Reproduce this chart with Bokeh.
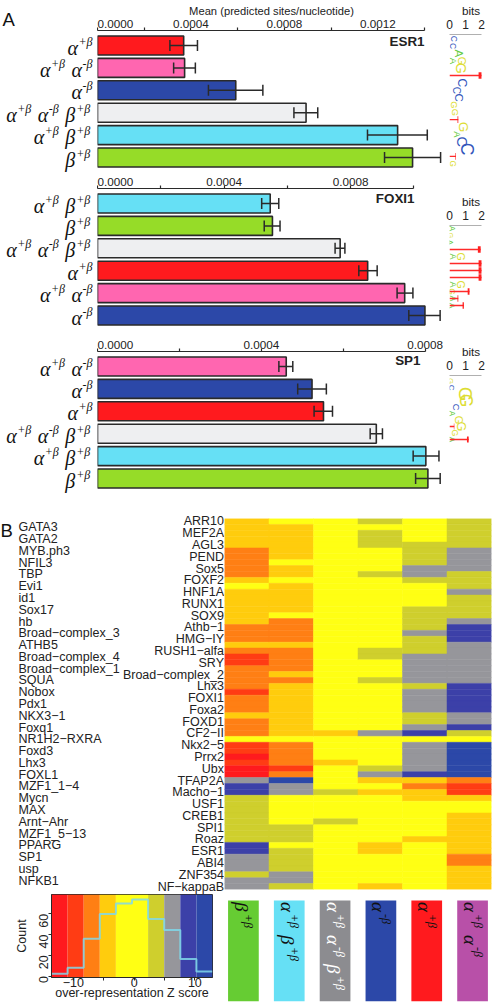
import math
import numpy as np
from bokeh.embed import file_html
from bokeh.resources import INLINE
from bokeh.plotting import figure
from bokeh.layouts import column, row
from bokeh.models import (ColumnDataSource, FactorRange, Range1d, FixedTicker, Whisker, TeeHead, Label)
from bokeh.core.properties import value

# ---- data -------------------------------------------------------------
A = "α+β"
AM = "α+β α-β"
M = "α-β"
T3 = "α+β α-β β+β"
AB = "α+β β+β"
B = "β+β"
group_colors = {A: "#ff1a1e", AM: "#ff66b0", M: "#2c48a8", T3: "#eeeff1", AB: "#66e0f5", B: "#96dc28"}

esr1_groups = [A, AM, M, T3, AB, B]
esr1_mean = [0.000369, 0.000373, 0.000592, 0.000893, 0.001285, 0.001349]
esr1_low = [0.000310, 0.000326, 0.000475, 0.000841, 0.001156, 0.001229]
esr1_high = [0.000428, 0.000419, 0.000708, 0.000943, 0.001412, 0.001469]

foxi1_groups = [AB, B, T3, A, AM, M]
foxi1_mean = [0.000546, 0.000553, 0.000767, 0.000854, 0.000971, 0.001035]
foxi1_low = [0.000519, 0.000527, 0.000751, 0.000826, 0.000947, 0.000984]
foxi1_high = [0.000573, 0.000577, 0.000782, 0.000884, 0.000997, 0.001083]

sp1_groups = [AM, M, A, T3, AB, B]
sp1_mean = [0.000461, 0.000524, 0.000552, 0.000681, 0.000802, 0.000807]
sp1_low = [0.000443, 0.000489, 0.000529, 0.000666, 0.000771, 0.000777]
sp1_high = [0.000477, 0.000559, 0.000574, 0.000696, 0.000834, 0.000837]

# sequence logos: letter position, letter, start and end in bits
esr1_pos = [2, 3, 4, 5, 5, 6, 8, 9, 10, 11, 12, 14, 15, 16, 17, 19]
esr1_let = ["C", "C", "A", "A", "G", "G", "C", "C", "C", "G", "G", "G", "A", "C", "C", "G"]
esr1_from = [.15, .1, .2, .05, .5, .1, .35, .2, .25, .1, .2, .3, .3, .15, .25, .1]
esr1_to = [.4, .35, 1.0, .5, 1.1, 1.3, 1.2, .7, 1.0, .5, .6, 1.4, .7, 1.4, 2.0, .3]
esr1_t_pos = [7, 13, 18]
esr1_t_to = [2.0, .55, .4]

foxi1_pos = [1, 2, 3, 5, 5, 9, 9, 10, 11, 12]
foxi1_let = ["A", "G", "A", "A", "G", "A", "G", "G", "A", "A"]
foxi1_from = [.05, .03, .03, .05, .4, .05, .4, .05, .05, .05]
foxi1_to = [.25, .12, .1, .4, 1.0, .4, 1.0, .3, .35, .3]
foxi1_t_pos = [4, 6, 7, 8, 10, 11, 12]
foxi1_t_to = [1.95, 2.0, 2.0, 2.0, 1.25, .55, .9]

sp1_pos = [1, 2, 3, 4, 5, 6, 7, 8, 9, 10]
sp1_let = ["G", "C", "G", "G", "C", "A", "G", "G", "G", "A"]
sp1_from = [.03, .03, .05, .15, .25, .05, .25, .25, .2, .03]
sp1_to = [.15, .2, 2.0, 1.9, .65, .25, .9, 1.2, .5, .25]
sp1_t_pos = [10, 8]
sp1_t_to = [1.2, .3]

# motif enrichment heatmap
top_names = ["ARR10", "MEF2A", "AGL3", "PEND", "Sox5", "FOXF2", "HNF1A", "RUNX1", "SOX9", "Athb−1", "HMG−IY",
             "RUSH1−alfa", "SRY", "Broad−complex_2", "Lhx3", "FOXI1", "Foxa2", "FOXD1", "CF2−II", "Nkx2−5",
             "Prrx2", "Ubx", "TFAP2A", "Macho−1", "USF1", "CREB1", "SPI1", "Roaz", "ESR1", "ABI4", "ZNF354",
             "NF−kappaB"]
side_names = ["GATA3", "GATA2", "MYB.ph3", "NFIL3", "TBP", "Evi1", "id1", "Sox17", "hb", "Broad−complex_3", "ATHB5",
              "Broad−complex_4", "Broad−complex_1", "SQUA", "Nobox", "Pdx1", "NKX3−1", "Foxq1", "NR1H2−RXRA", "Foxd3",
              "Lhx3", "FOXL1", "MZF1_1−4", "Mycn", "MAX", "Arnt−Ahr", "MZF1_5−13", "PPARG", "SP1", "usp", "NFKB1"]
band_colors = ["#ff1a1e", "#ff3c14", "#ff7f14", "#ffcc0d", "#ffff14", "#cfcf2d", "#96969b", "#3c40a8", "#2c48a8"]
heat_c0 = [3,3,3,3,3, 2,2,2,2,2, 3, 4, 3,3,3,3,3,3, 2,2,2, 3, 2, 1,1, 2,2,2,2, 1, 2,2,2, 3, 2,2,2, 4, 1,1, 0, 1, 0,0,
           6, 7,7, 5,5,5,5,5,5,5,5, 7,7, 6,6,6, 5, 6,6]
heat_c1 = [4, 3,3,3,3,3,3, 4, 3,3, 4, 3,3,3,3,3, 4, 2,2,2,2, 3, 2,2,2,2, 3, 2, 3,3,3,3,3,3,3,3,3, 4, 2,2,2,2, 1, 2,
           8, 6,6, 4,4,4,4,4, 5,5,5, 4, 5,5,5,5, 6,6, 5]
heat_c2 = [4,4,4,4,4,4,4,4,4,4,4,4,4,4,4,4,4,4,4,4,4,4,4,4,4,4,4,4,4,4,4,4,4,4,4,4, 3, 4,4,4,4, 3, 4,4,4,4, 5,
           4,4,4,4, 5, 4,4,4,4,4,4,4,4,4,4,4]
heat_c3 = [5, 4, 5,5,5, 4,4,4,4, 5, 4,4,4,4,4,4,4,4,4,4,4,4, 5,5, 4,4,4, 5, 4,4,4,4,4,4,4,4, 6, 4,4,4,4,4, 5, 6, 3, 4,
           3, 4,4,4,4,4,4,4,4, 3,3, 4,4,4,4,4, 3]
heat_c4 = [4,4,4,4, 5,5,5,5, 6,6, 5, 4,4,4,4, 5,5,5,5, 6, 5,5,5, 6,6,6,6,6, 5, 6,6,6,6, 5,5, 6, 7, 4, 6,6,6,6,6, 7, 3,
           2, 3,3, 4,4,4,4,4,4, 3, 4,4,4,4,4,4,4,4]
heat_c5 = [5,5,5,5,5, 6,6,6,6, 5,5,5, 6, 5,5,5,5, 6, 7,7,7, 6,6,6,6,6,6,6, 7,7,7,7,7, 6,6, 7, 5, 4, 8,8,8,8,8,8, 2,
           1,1, 3, 4,4, 3,3,3,3,3,3,3, 2,2, 3,3,3,3]

# colour key histogram
hist_edges = [-13.6, -10.95, -8.3, -5.65, -3.0, -0.35, 2.3, 4.95, 7.6, 10.25, 12.9]
hist_counts = [2.3, 8, 36, 60, 70, 74, 55, 44.5, 16.5, 4.5]
hist_bands = [0, 1, 2, 3, 4, 4, 5, 6, 7, 8]

strip_labels = [B, AB, T3, M, A, AM]
strip_fill = ["#66cc33", "#66e0f5", "#8c8c90", "#2c48a8", "#ff1a1e", "#b850a8"]
strip_ink = ["#111111", "#111111", "#ffffff", "#111111", "#111111", "#111111"]

# ---- style ------------------------------------------------------------
SANS = "Liberation Sans"
SERIF = "Liberation Serif"
INK = "#2a2a2a"
LOGO = {"A": "#66cc44", "C": "#3355bb", "G": "#dddd33"}
PITCH = 22.4


def bare(p):
    p.outline_line_color = None
    p.grid.visible = False
    p.background_fill_color = None
    p.border_fill_color = None
    p.frame_align = False


def names_fig(groups, height, first_top, letter=None):
    """Right-aligned italic group names with raised tails, in a column of their own beside the bars."""
    p = figure(width=97, height=height, x_range=Range1d(0, 97),
               y_range=Range1d((height - first_top) / PITCH, -first_top / PITCH),
               output_backend="svg", toolbar_location=None, min_border=0)
    bare(p)
    p.axis.visible = False
    main_y, main_x, main_t, sup_y, sup_x, sup_t = [], [], [], [], [], []
    for k, g in enumerate(groups):
        tokens = g.split(" ")
        right = 91.7 if tokens[-1][0] == "β" else 94
        for tok in reversed(tokens):
            sx = right - (16 if "+" in tok else 12)
            mx = sx - 11
            sup_y.append(k + 0.5)
            sup_x.append(sx)
            sup_t.append(tok[1:])
            main_y.append(k + 0.5)
            main_x.append(mx)
            main_t.append(tok[0])
            right = mx - 4.5
    common = dict(text_align="left", text_baseline="middle", text_color="#111111", text_font=value(SERIF),
                  text_font_style="italic")
    p.text(x=main_x, y=main_y, text=main_t, text_font_size="20px", y_offset=2, **common)
    p.text(x=sup_x, y=sup_y, text=sup_t, text_font_size="12px", y_offset=-4, **common)
    if letter:
        p.text(x=[2], y=[(18.5 - first_top) / PITCH], text=[letter], text_font=value(SANS), text_font_size="18.5px",
               text_baseline="alphabetic", text_color="#111111")
    return p


def bar_panel(groups, mean, low, high, name, x_end, ticks, labelled, height, top, name_right, name_y):
    y_range = FactorRange(factors=groups[::-1], range_padding=0.17, range_padding_units="absolute")
    p = figure(width=348, height=height, x_range=Range1d(0, x_end), y_range=y_range, x_axis_location="above",
               output_backend="svg", toolbar_location=None, min_border_left=0, min_border_right=0,
               min_border_top=top, min_border_bottom=0)
    bare(p)
    p.yaxis.visible = False
    src = ColumnDataSource(dict(g=groups, m=mean, lo=low, hi=high, c=[group_colors[g] for g in groups]))
    p.hbar(y="g", left=0, right="m", height=0.85, source=src, fill_color="c", line_color=INK, line_width=1.6)
    p.add_layout(Whisker(dimension="width", base="g", lower="lo", upper="hi", source=src, line_color=INK,
                         line_width=1.5, level="annotation",
                         lower_head=TeeHead(size=11, line_color=INK, line_width=1.5),
                         upper_head=TeeHead(size=11, line_color=INK, line_width=1.5)))
    ax = p.xaxis[0]
    ax.ticker = FixedTicker(ticks=ticks)
    ax.major_label_overrides = {t: (f"{t:.4f}" if t in labelled else "") for t in ticks}
    ax.bounds = (ticks[0], ticks[-1])
    ax.major_label_text_align = "left"
    ax.major_label_text_font = SANS
    ax.major_label_text_font_size = "11.7px"
    ax.major_label_text_color = "#222222"
    ax.major_label_standoff = 0
    ax.major_tick_in = 0
    ax.major_tick_out = 3
    ax.minor_tick_line_color = None
    ax.axis_line_color = INK
    ax.axis_line_width = 1.2
    ax.major_tick_line_color = INK
    ax.major_tick_line_width = 1.2
    p.add_layout(Label(x=name_right, y=name_y, x_units="canvas", y_units="canvas", text=name, level="underlay",
                       text_font=SANS, text_font_style="bold", text_font_size="13.4px", text_align="right",
                       text_baseline="middle", text_color="#222222"))
    return p


def logo_panel(pos, let, fr, to, tpos, tto, y0, y1, height, top):
    p = figure(width=47, height=height, x_range=Range1d(0, 2.69), y_range=Range1d(y1, y0), x_axis_location="above",
               output_backend="svg", toolbar_location=None, min_border_left=4, min_border_right=0,
               min_border_top=top, min_border_bottom=0)
    bare(p)
    p.yaxis.visible = False
    mid = [(a + b) / 2 for a, b in zip(fr, to)]
    size = [f"{7 + 6 * (b - a):.1f}px" for a, b in zip(fr, to)]
    src = ColumnDataSource(dict(x=mid, y=pos, t=let, s=size, c=[LOGO[k] for k in let]))
    p.text(x="x", y="y", text="t", source=src, angle=-math.pi / 2, text_align="center", text_baseline="middle",
           text_font=value(SANS), text_font_size="s", text_color="c")
    p.segment(x0=[0] * len(tpos), x1=tto, y0=tpos, y1=tpos, line_color="#ff2a2a", line_width=1.4)
    p.quad(left=[b * 0.91 for b in tto], right=tto, top=[y - 0.45 for y in tpos], bottom=[y + 0.45 for y in tpos],
           fill_color="#ff2020", line_color=None)
    ax = p.xaxis[0]
    ax.ticker = FixedTicker(ticks=[0, 1, 2])
    ax.bounds = (0, 2)
    ax.axis_label = "bits"
    ax.axis_label_standoff = 0
    ax.axis_label_text_font = SANS
    ax.axis_label_text_font_style = "normal"
    ax.axis_label_text_font_size = "11.7px"
    ax.axis_label_text_color = "#222222"
    ax.major_label_text_font = SANS
    ax.major_label_text_font_size = "12px"
    ax.major_label_text_color = "#222222"
    ax.major_label_standoff = 0
    ax.major_tick_line_color = None
    ax.minor_tick_line_color = None
    ax.axis_line_color = "#b0b0b0"
    ax.axis_line_width = 1
    return p


n1 = names_fig(esr1_groups, 172, 33.8, "A")
p1 = bar_panel(esr1_groups, esr1_mean, esr1_low, esr1_high, "ESR1", 0.00149,
               [0, .0002, .0004, .0006, .0008, .001, .0012, .0014], [0, .0004, .0008, .0012], 172, 30, 327, 41)
p1.xaxis[0].axis_label = "Mean (predicted sites/nucleotide)"
p1.xaxis[0].axis_label_standoff = 0
p1.xaxis[0].axis_label_text_font = SANS
p1.xaxis[0].axis_label_text_font_style = "normal"
p1.xaxis[0].axis_label_text_font_size = "11.2px"
p1.xaxis[0].axis_label_text_color = "#222222"
l1 = logo_panel(esr1_pos, esr1_let, esr1_from, esr1_to, esr1_t_pos, esr1_t_to, 1.41, 20.2, 172, 34)

n2 = names_fig(foxi1_groups, 158, 19.8)
p2 = bar_panel(foxi1_groups, foxi1_mean, foxi1_low, foxi1_high, "FOXI1", 0.0011,
               [0, .0002, .0004, .0006, .0008, .001], [0, .0004, .0008], 158, 16, 317, 26)
l2 = logo_panel(foxi1_pos, foxi1_let, foxi1_from, foxi1_to, foxi1_t_pos, foxi1_t_to, 0.57, 15.57, 158, 53)

n3 = names_fig(sp1_groups, 163, 24.8)
p3 = bar_panel(sp1_groups, sp1_mean, sp1_low, sp1_high, "SP1", 0.00085,
               [0, .0002, .0004, .0006, .0008], [0, .0004, .0008], 163, 21, 323, 30)
l3 = logo_panel(sp1_pos, sp1_let, sp1_from, sp1_to, sp1_t_pos, sp1_t_to, 0.15, 18.3, 163, 45)

# heatmap: 63 rows, the names of the even rows stand in the far column
H_H = 397
H_TOP = 25
H_TAIL = 4
ROW = 371 / 63
columns = [heat_c0, heat_c1, heat_c2, heat_c3, heat_c4, heat_c5]
n_rows = len(heat_c0)
hl = figure(width=224, height=H_H + H_TAIL, x_range=Range1d(0, 224),
            y_range=Range1d(n_rows - 0.5 + (1 + H_TAIL) / ROW, -0.5 - H_TOP / ROW),
            output_backend="svg", toolbar_location=None, min_border=0)
bare(hl)
hl.axis.visible = False
hl.text(x=[223.5] * len(top_names), y=list(range(0, n_rows, 2)), text=top_names, text_align="right",
        text_baseline="middle", text_font=value(SANS), text_font_size="12.5px", text_color="#222222")
hl.text(x=[18] * len(side_names), y=list(range(1, n_rows, 2)), text=side_names, text_align="left",
        text_baseline="middle", text_font=value(SANS), text_font_size="12.5px", text_color="#222222")
hl.text(x=[0], y=[1.54], text=["B"], text_font=value(SANS), text_font_size="18.5px", text_baseline="alphabetic",
        text_color="#111111")

hm = figure(width=268, height=H_H + H_TAIL, x_range=Range1d(-0.5, 5.5), y_range=Range1d(n_rows - 0.5, -0.5),
            output_backend="svg", toolbar_location=None, min_border_left=0, min_border_right=1,
            min_border_top=H_TOP, min_border_bottom=1 + H_TAIL)
bare(hm)
hm.axis.visible = False
hx, hy, hc = [], [], []
for i, col in enumerate(columns):
    for j, k in enumerate(col):
        hx.append(i)
        hy.append(j)
        hc.append(band_colors[k])
hm.rect(x=hx, y=hy, width=1, height=1, fill_color=hc, line_color=hc, line_width=0.5)

# colour key histogram
hs = figure(width=214, height=108, x_range=Range1d(hist_edges[0], hist_edges[-1]), y_range=Range1d(-1.3, 78.7),
            output_backend="svg", toolbar_location=None, min_border_left=51, min_border_right=2,
            min_border_top=0, min_border_bottom=25)
bare(hs)
hs.outline_line_color = INK
hs.quad(left=hist_edges[:-1], right=hist_edges[1:], bottom=-1.3, top=78.7,
        fill_color=[band_colors[k] for k in hist_bands], line_color=None)
step_x = np.repeat(hist_edges, 2)[1:-1]
step_y = np.repeat(hist_counts, 2)
hs.line(step_x, step_y, line_color="#80d8ea", line_width=2, line_alpha=0.85)
xa = hs.xaxis[0]
xa.ticker = FixedTicker(ticks=[-10, -5, 0, 5, 10])
xa.major_label_overrides = {-10: "−10", -5: "", 0: "0", 5: "", 10: "10"}
xa.major_label_standoff = -3
xa.axis_label = "over-representation Z score"
xa.axis_label_standoff = -4
ya = hs.yaxis[0]
ya.ticker = FixedTicker(ticks=[0, 20, 40, 60])
ya.axis_label = "Count"
ya.axis_label_standoff = 3
ya.major_label_standoff = 5
ya.major_label_orientation = math.pi / 2
for a in (xa, ya):
    a.major_label_text_font = SANS
    a.major_label_text_font_size = "12.5px"
    a.major_label_text_color = "#222222"
    a.axis_label_text_font = SANS
    a.axis_label_text_font_style = "normal"
    a.axis_label_text_font_size = "12.5px"
    a.axis_label_text_color = "#222222"
    a.major_tick_in = 0
    a.major_tick_out = 3
    a.minor_tick_line_color = None
    a.major_tick_line_color = INK
    a.axis_line_color = INK

# sample colour strips
st = figure(width=278, height=108, x_range=Range1d(-0.5, 5.435), y_range=Range1d(0, 1.0594),
            output_backend="svg", toolbar_location=None, min_border_left=6, min_border_right=0,
            min_border_top=0, min_border_bottom=1)
bare(st)
st.axis.visible = False
idx = list(range(len(strip_labels)))
st.vbar(x=idx, width=0.67, bottom=0, top=1, fill_color=strip_fill, line_color=None)
piece_x, piece_t, piece_c, piece_s, piece_dx, piece_dy = [], [], [], [], [], []
for i, lab in enumerate(strip_labels):
    dy = 0
    for tok in lab.split(" "):
        piece_x += [i, i]
        piece_t += [tok[0], tok[1:]]
        piece_c += [strip_ink[i], strip_ink[i]]
        piece_s += ["19px", "12px"]
        piece_dx += [-2, 5]
        piece_dy += [dy, dy + 12]
        dy += 12 + (16 if "+" in tok else 12) + 5
st.text(x=piece_x, y=[0.985] * len(piece_x), text=piece_t, angle=-math.pi / 2, text_align="left",
        text_baseline="middle", text_font=value(SERIF), text_font_style="italic", text_font_size=piece_s,
        text_color=piece_c, x_offset=piece_dx, y_offset=piece_dy)

root = column(row(n1, p1, l1, spacing=0), row(n2, p2, l2, spacing=0), row(n3, p3, l3, spacing=0), row(hl, hm, spacing=0),
              row(hs, st, spacing=0), spacing=0)
open("out.html", "w").write(file_html(root, INLINE))
